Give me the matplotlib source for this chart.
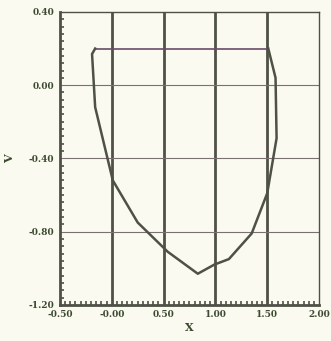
import numpy as np
import matplotlib
matplotlib.use("Agg")
import matplotlib.pyplot as plt
from matplotlib.ticker import MultipleLocator

# closed trajectory in the X-V plane
x_vals = [-0.16, 1.51, 1.58, 1.59, 1.50, 1.35, 1.13, 0.99, 0.83,
          0.54, 0.25, 0.01, -0.16, -0.19, -0.16]
v_vals = [0.20, 0.20, 0.04, -0.29, -0.59, -0.81, -0.95, -0.98, -1.03,
          -0.91, -0.75, -0.52, -0.12, 0.17, 0.20]

x_ticks = [-0.5, 0.0, 0.5, 1.0, 1.5, 2.0]
x_labels = ["-0.50", "-0.00", "0.50", "1.00", "1.50", "2.00"]
v_ticks = [-1.2, -0.8, -0.4, 0.0, 0.4]
v_labels = ["-1.20", "-0.80", "-0.40", "0.00", "0.40"]

bg = "#fafaf0"
ink = "#4f5146"
txt = "#3c4a30"

fig = plt.figure(figsize=(3.31, 3.41), dpi=100, facecolor=bg)
ax = fig.add_axes([0.181, 0.106, 0.783, 0.859], facecolor=bg)

ax.set_xlim(-0.5, 2.0)
ax.set_ylim(-1.2, 0.4)

# vertical grid heavy, horizontal grid light
for xv in x_ticks[1:-1]:
    ax.axvline(xv, color=ink, lw=2.0, zorder=1)
for vv in v_ticks[1:-1]:
    ax.axhline(vv, color="#7a7070", lw=0.8, zorder=1)

ax.plot(x_vals[:2], v_vals[:2], color="#6a4a6a", lw=1.2, zorder=2)
ax.plot(x_vals[1:], v_vals[1:], color=ink, lw=1.8, zorder=3)

ax.set_xticks(x_ticks)
ax.set_xticklabels(x_labels)
ax.set_yticks(v_ticks)
ax.set_yticklabels(v_labels)
ax.xaxis.set_minor_locator(MultipleLocator(0.05))
ax.yaxis.set_minor_locator(MultipleLocator(0.04))
ax.tick_params(which="both", direction="in", top=False, right=False,
               color=ink, labelcolor=txt, labelsize=6.5)
ax.tick_params(which="major", length=0, pad=4)
ax.tick_params(which="minor", length=3, width=1.2)
for lab in ax.get_xticklabels() + ax.get_yticklabels():
    lab.set_fontweight("bold")
    lab.set_family("DejaVu Serif")

for side in ax.spines.values():
    side.set_color(ink)
    side.set_linewidth(1.0)
ax.spines["left"].set_linewidth(2.0)
ax.spines["bottom"].set_linewidth(2.0)

ax.set_xlabel("X", fontsize=8, fontweight="bold", family="DejaVu Serif",
              color=txt, labelpad=2)
ax.set_ylabel("V", fontsize=8, fontweight="bold", family="DejaVu Serif",
              color=txt, labelpad=10)

fig.savefig("out.png", dpi=100, facecolor=bg)
